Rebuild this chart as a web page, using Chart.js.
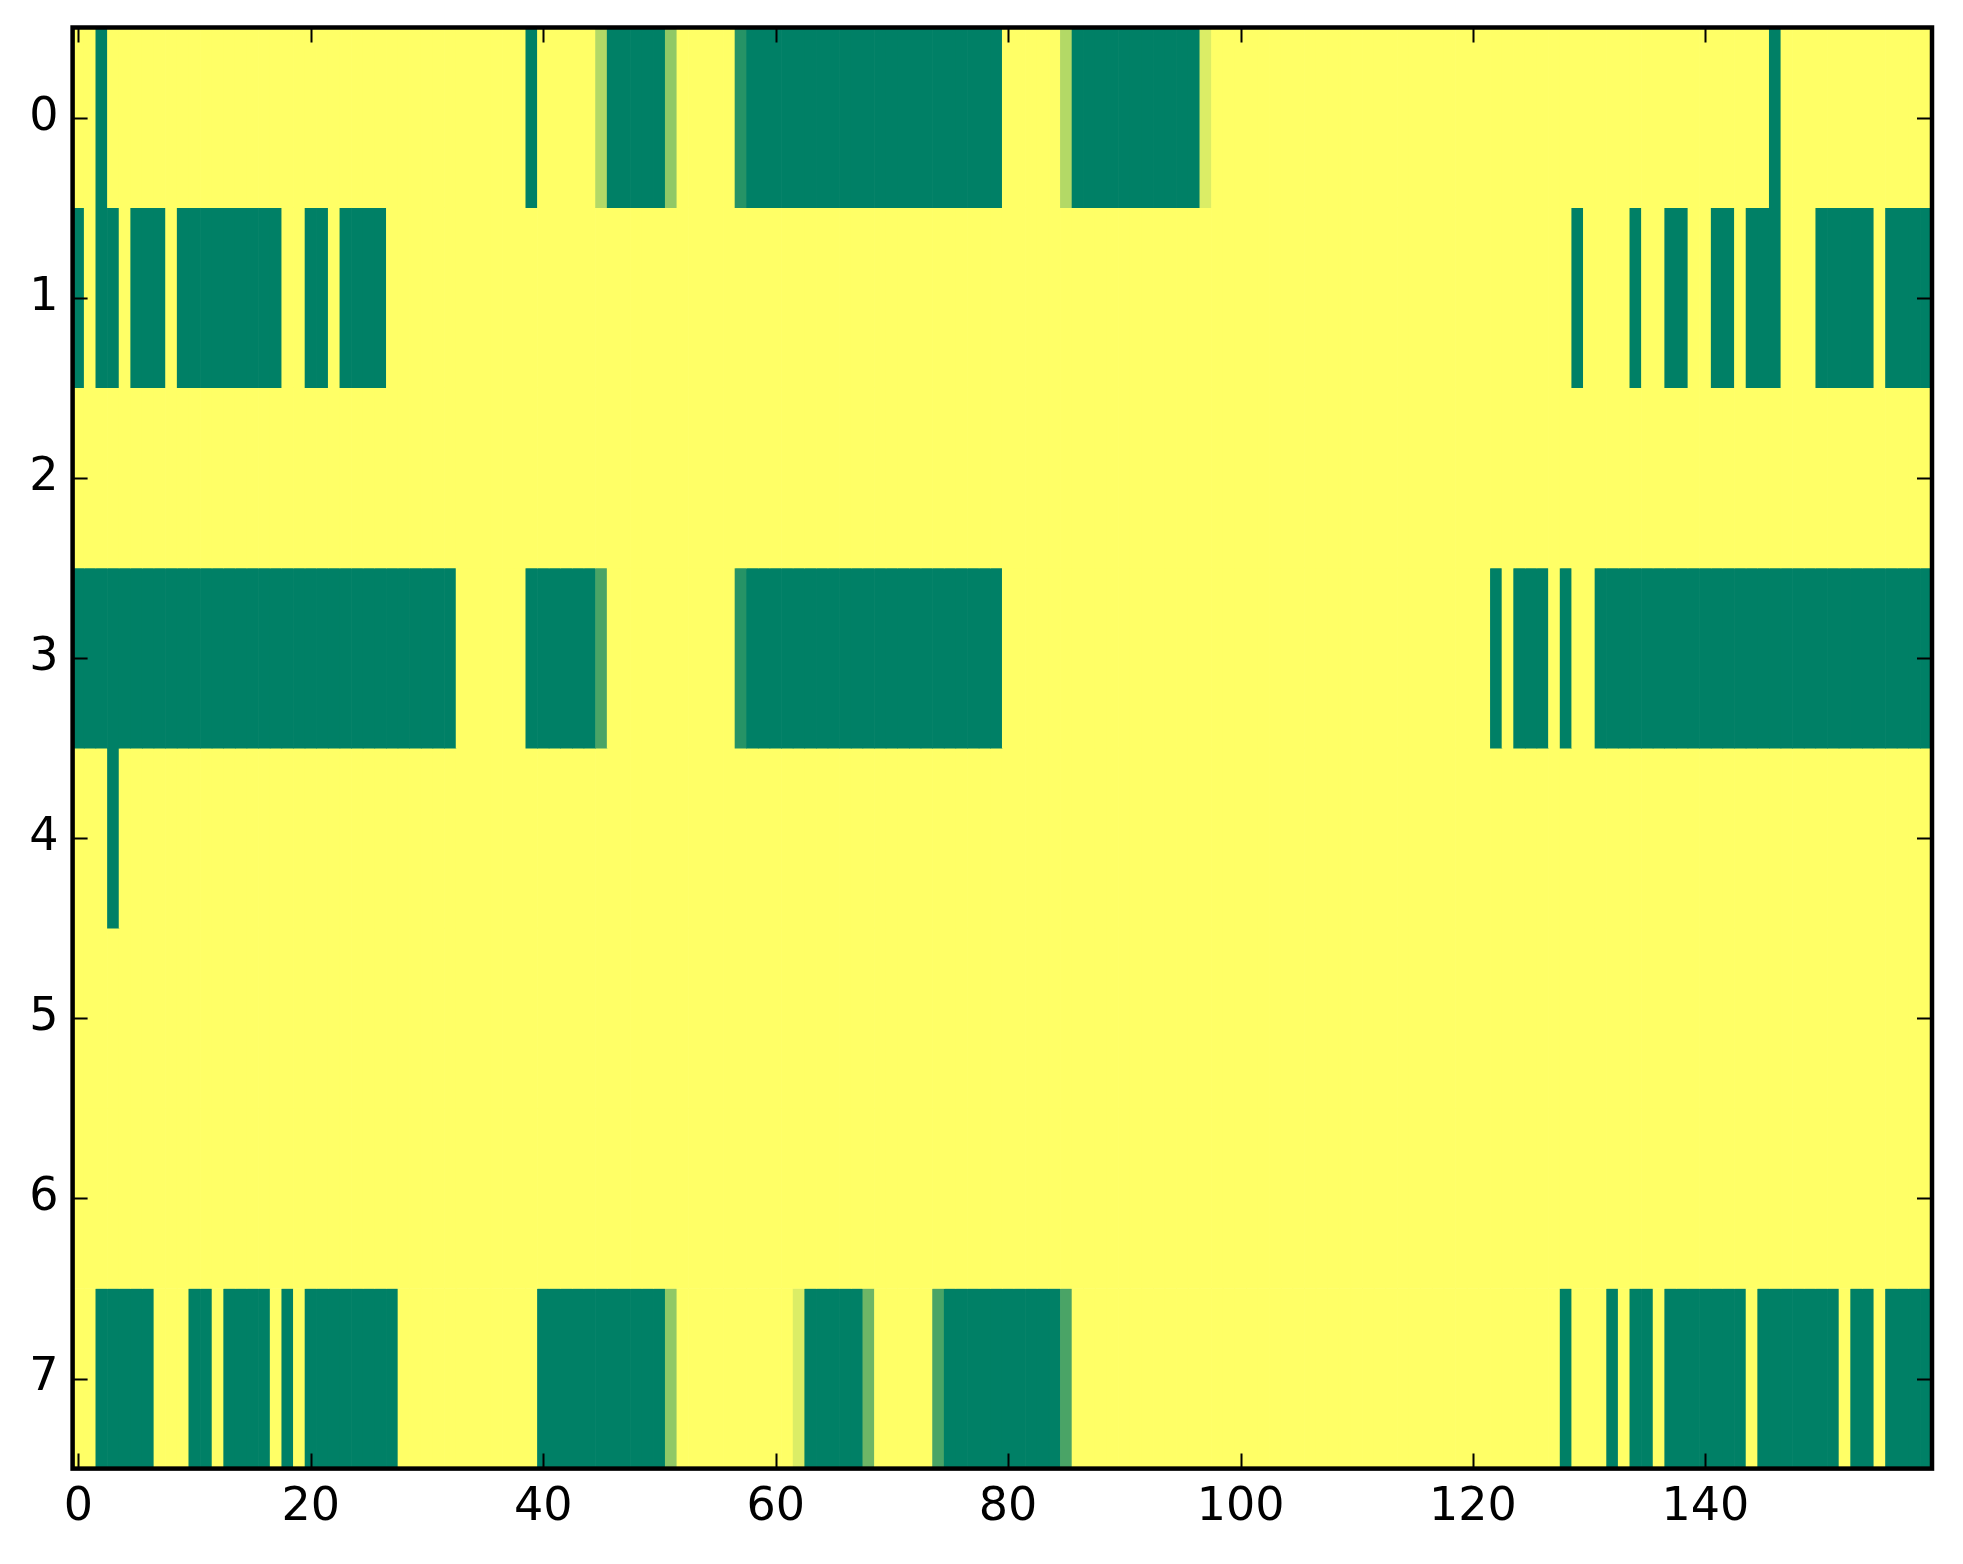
<!DOCTYPE html>
<html>
<head>
<meta charset="utf-8">
<title>Heatmap</title>
<script src="https://cdn.jsdelivr.net/npm/chart.js@4.4.1/dist/chart.umd.min.js"></script>
<style>
    html, body { margin: 0; padding: 0; background: #ffffff; }
    #wrap { width: 1963px; height: 1564px; }
</style>
</head>
<body>
<div id="wrap"><canvas id="heat-chart" width="1963" height="1564"></canvas></div>
<script>
// tick positions
const xTickValues = [0, 20, 40, 60, 80, 100, 120, 140];
const yTickValues = [0, 1, 2, 3, 4, 5, 6, 7];

// cell values per row, 160 columns each (0 = green, 1 = yellow)
const row0 = [
    1, 1, 0, 1, 1, 1, 1, 1, 1, 1, 1, 1, 1, 1, 1, 1, 1, 1, 1, 1,
    1, 1, 1, 1, 1, 1, 1, 1, 1, 1, 1, 1, 1, 1, 1, 1, 1, 1, 1, 0,
    1, 1, 1, 1, 1, 0.7, 0, 0, 0, 0, 0, 0.57, 1, 1, 1, 1, 1, 0.15, 0, 0,
    0, 0, 0, 0, 0, 0, 0, 0, 0, 0, 0, 0, 0, 0, 0, 0, 0, 0, 0, 0,
    1, 1, 1, 1, 1, 0.7, 0, 0, 0, 0, 0, 0, 0, 0, 0, 0, 0, 0.86, 1, 1,
    1, 1, 1, 1, 1, 1, 1, 1, 1, 1, 1, 1, 1, 1, 1, 1, 1, 1, 1, 1,
    1, 1, 1, 1, 1, 1, 1, 1, 1, 1, 1, 1, 1, 1, 1, 1, 1, 1, 1, 1,
    1, 1, 1, 1, 1, 1, 0, 1, 1, 1, 1, 1, 1, 1, 1, 1, 1, 1, 1, 1
];
const row1 = [
    0, 1, 0, 0, 1, 0, 0, 0, 1, 0, 0, 0, 0, 0, 0, 0, 0, 0, 1, 1,
    0, 0, 1, 0, 0, 0, 0, 1, 1, 1, 1, 1, 1, 1, 1, 1, 1, 1, 1, 1,
    1, 1, 1, 1, 1, 1, 1, 1, 1, 1, 1, 1, 1, 1, 1, 1, 1, 1, 1, 1,
    1, 1, 1, 1, 1, 1, 1, 1, 1, 1, 1, 1, 1, 1, 1, 1, 1, 1, 1, 1,
    1, 1, 1, 1, 1, 1, 1, 1, 1, 1, 1, 1, 1, 1, 1, 1, 1, 1, 1, 1,
    1, 1, 1, 1, 1, 1, 1, 1, 1, 1, 1, 1, 1, 1, 1, 1, 1, 1, 1, 1,
    1, 1, 1, 1, 1, 1, 1, 1, 1, 0, 1, 1, 1, 1, 0, 1, 1, 0, 0, 1,
    1, 0, 0, 1, 0, 0, 0, 1, 1, 1, 0, 0, 0, 0, 0, 1, 0, 0, 0, 0
];
const row2 = [
    1, 1, 1, 1, 1, 1, 1, 1, 1, 1, 1, 1, 1, 1, 1, 1, 1, 1, 1, 1,
    1, 1, 1, 1, 1, 1, 1, 1, 1, 1, 1, 1, 1, 1, 1, 1, 1, 1, 1, 1,
    1, 1, 1, 1, 1, 1, 1, 1, 1, 1, 1, 1, 1, 1, 1, 1, 1, 1, 1, 1,
    1, 1, 1, 1, 1, 1, 1, 1, 1, 1, 1, 1, 1, 1, 1, 1, 1, 1, 1, 1,
    1, 1, 1, 1, 1, 1, 1, 1, 1, 1, 1, 1, 1, 1, 1, 1, 1, 1, 1, 1,
    1, 1, 1, 1, 1, 1, 1, 1, 1, 1, 1, 1, 1, 1, 1, 1, 1, 1, 1, 1,
    1, 1, 1, 1, 1, 1, 1, 1, 1, 1, 1, 1, 1, 1, 1, 1, 1, 1, 1, 1,
    1, 1, 1, 1, 1, 1, 1, 1, 1, 1, 1, 1, 1, 1, 1, 1, 1, 1, 1, 1
];
const row3 = [
    0, 0, 0, 0, 0, 0, 0, 0, 0, 0, 0, 0, 0, 0, 0, 0, 0, 0, 0, 0,
    0, 0, 0, 0, 0, 0, 0, 0, 0, 0, 0, 0, 0, 1, 1, 1, 1, 1, 1, 0,
    0, 0, 0, 0, 0, 0.29, 1, 1, 1, 1, 1, 1, 1, 1, 1, 1, 1, 0.15, 0, 0,
    0, 0, 0, 0, 0, 0, 0, 0, 0, 0, 0, 0, 0, 0, 0, 0, 0, 0, 0, 0,
    1, 1, 1, 1, 1, 1, 1, 1, 1, 1, 1, 1, 1, 1, 1, 1, 1, 1, 1, 1,
    1, 1, 1, 1, 1, 1, 1, 1, 1, 1, 1, 1, 1, 1, 1, 1, 1, 1, 1, 1,
    1, 1, 0, 1, 0, 0, 0, 1, 0, 1, 1, 0, 0, 0, 0, 0, 0, 0, 0, 0,
    0, 0, 0, 0, 0, 0, 0, 0, 0, 0, 0, 0, 0, 0, 0, 0, 0, 0, 0, 0
];
const row4 = [
    1, 1, 1, 0, 1, 1, 1, 1, 1, 1, 1, 1, 1, 1, 1, 1, 1, 1, 1, 1,
    1, 1, 1, 1, 1, 1, 1, 1, 1, 1, 1, 1, 1, 1, 1, 1, 1, 1, 1, 1,
    1, 1, 1, 1, 1, 1, 1, 1, 1, 1, 1, 1, 1, 1, 1, 1, 1, 1, 1, 1,
    1, 1, 1, 1, 1, 1, 1, 1, 1, 1, 1, 1, 1, 1, 1, 1, 1, 1, 1, 1,
    1, 1, 1, 1, 1, 1, 1, 1, 1, 1, 1, 1, 1, 1, 1, 1, 1, 1, 1, 1,
    1, 1, 1, 1, 1, 1, 1, 1, 1, 1, 1, 1, 1, 1, 1, 1, 1, 1, 1, 1,
    1, 1, 1, 1, 1, 1, 1, 1, 1, 1, 1, 1, 1, 1, 1, 1, 1, 1, 1, 1,
    1, 1, 1, 1, 1, 1, 1, 1, 1, 1, 1, 1, 1, 1, 1, 1, 1, 1, 1, 1
];
const row5 = [
    1, 1, 1, 1, 1, 1, 1, 1, 1, 1, 1, 1, 1, 1, 1, 1, 1, 1, 1, 1,
    1, 1, 1, 1, 1, 1, 1, 1, 1, 1, 1, 1, 1, 1, 1, 1, 1, 1, 1, 1,
    1, 1, 1, 1, 1, 1, 1, 1, 1, 1, 1, 1, 1, 1, 1, 1, 1, 1, 1, 1,
    1, 1, 1, 1, 1, 1, 1, 1, 1, 1, 1, 1, 1, 1, 1, 1, 1, 1, 1, 1,
    1, 1, 1, 1, 1, 1, 1, 1, 1, 1, 1, 1, 1, 1, 1, 1, 1, 1, 1, 1,
    1, 1, 1, 1, 1, 1, 1, 1, 1, 1, 1, 1, 1, 1, 1, 1, 1, 1, 1, 1,
    1, 1, 1, 1, 1, 1, 1, 1, 1, 1, 1, 1, 1, 1, 1, 1, 1, 1, 1, 1,
    1, 1, 1, 1, 1, 1, 1, 1, 1, 1, 1, 1, 1, 1, 1, 1, 1, 1, 1, 1
];
const row6 = [
    1, 1, 1, 1, 1, 1, 1, 1, 1, 1, 1, 1, 1, 1, 1, 1, 1, 1, 1, 1,
    1, 1, 1, 1, 1, 1, 1, 1, 1, 1, 1, 1, 1, 1, 1, 1, 1, 1, 1, 1,
    1, 1, 1, 1, 1, 1, 1, 1, 1, 1, 1, 1, 1, 1, 1, 1, 1, 1, 1, 1,
    1, 1, 1, 1, 1, 1, 1, 1, 1, 1, 1, 1, 1, 1, 1, 1, 1, 1, 1, 1,
    1, 1, 1, 1, 1, 1, 1, 1, 1, 1, 1, 1, 1, 1, 1, 1, 1, 1, 1, 1,
    1, 1, 1, 1, 1, 1, 1, 1, 1, 1, 1, 1, 1, 1, 1, 1, 1, 1, 1, 1,
    1, 1, 1, 1, 1, 1, 1, 1, 1, 1, 1, 1, 1, 1, 1, 1, 1, 1, 1, 1,
    1, 1, 1, 1, 1, 1, 1, 1, 1, 1, 1, 1, 1, 1, 1, 1, 1, 1, 1, 1
];
const row7 = [
    1, 1, 0, 0, 0, 0, 0, 1, 1, 1, 0, 0, 1, 0, 0, 0, 0, 1, 0, 1,
    0, 0, 0, 0, 0, 0, 0, 0, 1, 1, 1, 1, 1, 1, 1, 1, 1, 1, 1, 1,
    0, 0, 0, 0, 0, 0, 0, 0, 0, 0, 0, 0.57, 1, 1, 1, 1, 1, 1, 1, 1,
    1, 1, 0.86, 0, 0, 0, 0, 0, 0.43, 1, 1, 1, 1, 1, 0.29, 0, 0, 0, 0, 0,
    0, 0, 0, 0, 0, 0.29, 1, 1, 1, 1, 1, 1, 1, 1, 1, 1, 1, 1, 1, 1,
    1, 1, 1, 1, 1, 1, 1, 1, 1, 1, 1, 1, 1, 1, 1, 1, 1, 1, 1, 1,
    1, 1, 1, 1, 1, 1, 1, 1, 0, 1, 1, 1, 0, 1, 0, 0, 1, 0, 0, 0,
    0, 0, 0, 0, 1, 0, 0, 0, 0, 0, 0, 0, 1, 0, 0, 1, 0, 0, 0, 0
];

const rows = [row0, row1, row2, row3, row4, row5, row6, row7];

// matplotlib "summer" colormap
function summer(v) {
    const r = Math.round(255 * v);
    const g = Math.round(127.5 + 127.5 * v);
    return 'rgb(' + r + ',' + g + ',102)';
}

const tickFont = { family: '"DejaVu Sans", sans-serif', size: 46 };

// frame and inward tick marks on all four sides
const framePlugin = {
    id: 'frame',
    afterDraw(chart) {
        const ctx = chart.ctx;
        const a = chart.chartArea;
        const xs = chart.scales.x;
        const ys = chart.scales.y;
        const len = 15;
        ctx.save();
        ctx.strokeStyle = '#000';
        ctx.lineWidth = 2;
        ctx.beginPath();
        xTickValues.forEach(v => {
            const px = Math.round(xs.getPixelForValue(v)) + 0.5;
            ctx.moveTo(px, a.top); ctx.lineTo(px, a.top + len);
            ctx.moveTo(px, a.bottom); ctx.lineTo(px, a.bottom - len);
        });
        yTickValues.forEach(v => {
            const py = Math.round(ys.getPixelForValue(v)) + 0.5;
            ctx.moveTo(a.left, py); ctx.lineTo(a.left + len, py);
            ctx.moveTo(a.right, py); ctx.lineTo(a.right - len, py);
        });
        ctx.stroke();
        ctx.lineWidth = 4.5;
        ctx.strokeRect(a.left, a.top, a.right - a.left, a.bottom - a.top);
        ctx.restore();
    }
};

const datasets = rows.map((vals, r) => ({
    label: 'row ' + r,
    data: vals.map((v, c) => ({ x: c, y: [r - 0.5, r + 0.5] })),
    backgroundColor: vals.map(summer),
    borderWidth: 0,
    grouped: false,
    barPercentage: 1,
    categoryPercentage: 1
}));

const ctx = document.getElementById('heat-chart').getContext('2d');
window.heatChart = new Chart(ctx, {
    type: 'bar',
    data: { datasets: datasets },
    options: {
        responsive: false,
        animation: false,
        layout: { padding: { left: 0, top: 27.5, right: 31, bottom: 0 } },
        plugins: {
            legend: { display: false },
            tooltip: { enabled: false }
        },
        scales: {
            x: {
                type: 'linear',
                min: -0.5,
                max: 159.5,
                offset: false,
                grid: { display: false, drawTicks: false },
                border: { display: false },
                ticks: { font: tickFont, color: '#000', padding: 12, maxRotation: 0, autoSkip: false },
                afterBuildTicks: axis => { axis.ticks = xTickValues.map(v => ({ value: v })); },
                afterFit: axis => {
                    axis.height = 95.4;
                    axis.paddingLeft = 0;
                    axis.paddingRight = 0;
                }
            },
            y: {
                type: 'linear',
                reverse: true,
                min: -0.5,
                max: 7.5,
                grid: { display: false, drawTicks: false },
                border: { display: false },
                ticks: { font: tickFont, color: '#000', padding: 14 },
                afterBuildTicks: axis => { axis.ticks = yTickValues.map(v => ({ value: v })); },
                afterFit: axis => {
                    axis.width = 72.6;
                    axis.paddingTop = 0;
                    axis.paddingBottom = 0;
                }
            }
        }
    },
    plugins: [framePlugin]
});
</script>
</body>
</html>
